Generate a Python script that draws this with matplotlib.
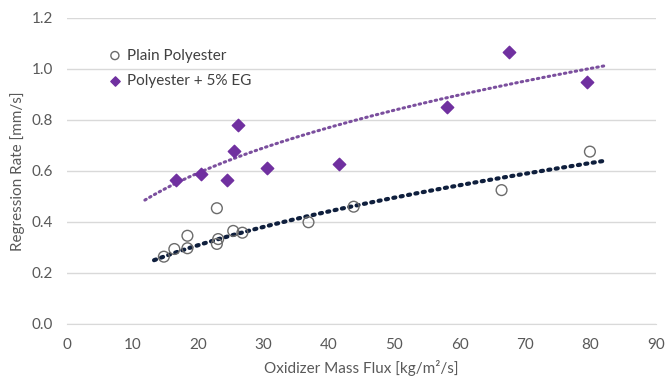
import numpy as np
import matplotlib
matplotlib.use("Agg")
import matplotlib.pyplot as plt

# data
plain_flux = [14.8, 16.4, 18.4, 18.4, 22.9, 22.9, 23.1, 25.4, 26.8, 36.9, 43.8, 66.4, 79.9]
plain_rate = [0.264, 0.294, 0.297, 0.346, 0.454, 0.314, 0.333, 0.365, 0.358, 0.399, 0.46, 0.525, 0.676]
eg_flux = [16.6, 20.5, 24.5, 25.5, 26.2, 30.5, 41.5, 58.0, 67.5, 79.4]
eg_rate = [0.565, 0.588, 0.565, 0.68, 0.78, 0.61, 0.626, 0.852, 1.068, 0.948]

# power trendlines y = a * x^b as shown on the chart
plain_trend = dict(a=0.0658, b=0.516, x0=13.3, x1=82.2)
eg_trend = dict(a=0.1896, b=0.38, x0=11.9, x1=82.5)

plt.rcParams['font.family'] = ['Lato', 'DejaVu Sans']

fig = plt.figure(figsize=(6.66, 3.78), dpi=100)
ax = fig.add_axes([0.1006, 0.1429, 0.8844, 0.8095])


def trend(t):
    xs = np.linspace(t['x0'], t['x1'], 200)
    return xs, t['a'] * xs ** t['b']


xs, ys = trend(eg_trend)
ax.plot(xs, ys, color='#7b4f9e', lw=2.2, ls=(0, (0.5, 1.3)), dash_capstyle='round', zorder=2)
xs, ys = trend(plain_trend)
ax.plot(xs, ys, color='#0f1f3d', lw=3.0, ls=(0, (0.5, 1.3)), dash_capstyle='round', zorder=2)

ax.scatter(plain_flux, plain_rate, s=60, facecolors='none', edgecolors='#6b6b6b',
           linewidths=1.0, zorder=3, label='Plain Polyester')
ax.scatter(eg_flux, eg_rate, s=40, marker='D', color='#7030a0', zorder=3,
           label='Polyester + 5% EG')

ax.set_xlim(0, 90)
ax.set_ylim(0, 1.2)
ax.set_xticks(range(0, 91, 10))
ax.set_yticks(np.arange(0, 1.21, 0.2))
ax.set_yticklabels([f'{v:.1f}' for v in np.arange(0, 1.21, 0.2)])
ax.grid(axis='y', color='#d9d9d9', lw=1.0)
ax.set_axisbelow(True)
for s in ['top', 'right', 'left']:
    ax.spines[s].set_visible(False)
ax.spines['bottom'].set_color('#d9d9d9')
ax.tick_params(axis='y', length=0, labelsize=11, labelcolor='#595959', pad=10)
ax.tick_params(axis='x', length=0, labelsize=11, labelcolor='#595959', pad=10)

ax.set_xlabel('Oxidizer Mass Flux [kg/m\u00b2/s]', fontsize=11, color='#595959', labelpad=6)
ax.set_ylabel('Regression Rate [mm/s]', fontsize=11, color='#595959', labelpad=5)

ax.legend(loc='upper left', bbox_to_anchor=(0.045, 0.92), frameon=False, fontsize=11,
          labelcolor='#404040', handletextpad=-0.2, borderaxespad=0, labelspacing=0.75,
          markerscale=0.75)

fig.savefig('out.png', dpi=100)
